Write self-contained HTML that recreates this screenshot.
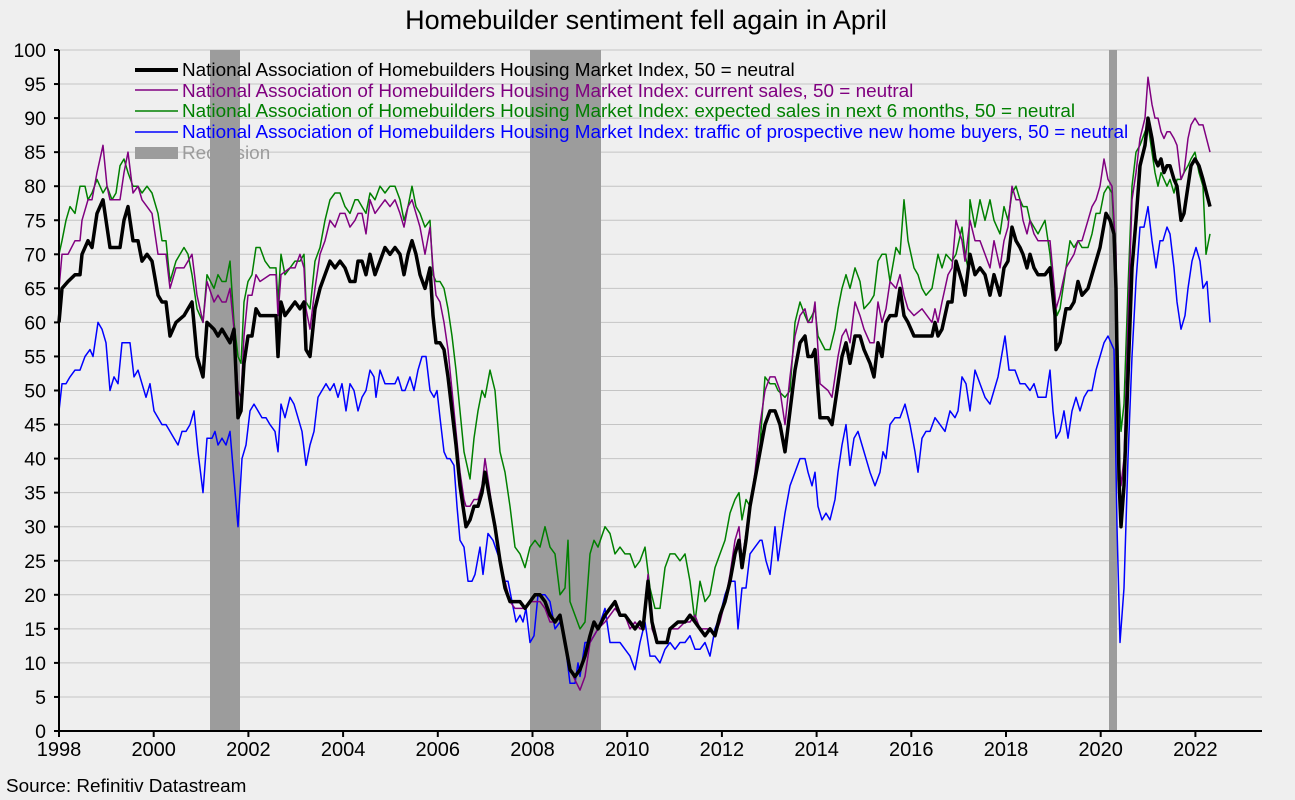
<!DOCTYPE html>
<html><head><meta charset="utf-8"><style>
body{margin:0;background:#efefef;}
svg{display:block;font-family:"Liberation Sans",sans-serif;}
</style></head><body>
<svg id="s" width="1295" height="800" viewBox="0 0 1295 800" xmlns="http://www.w3.org/2000/svg">
<rect width="1295" height="800" fill="#efefef"/>
<text x="646" y="29" font-size="27" text-anchor="middle" fill="#000">Homebuilder sentiment fell again in April</text>
<g id="grid"></g>
<rect x="210" y="50" width="30" height="681" fill="#9c9c9c"/>
<rect x="530" y="50" width="71" height="681" fill="#9c9c9c"/>
<rect x="1109" y="50" width="8" height="681" fill="#9c9c9c"/>
<g id="series" fill="none" stroke-linejoin="round"></g>
<line x1="59" y1="50" x2="59" y2="732" stroke="#000" stroke-width="2"/>
<line x1="58" y1="731" x2="1262" y2="731" stroke="#000" stroke-width="2"/>
<g id="axes"></g>
<g font-size="18.9">
<line x1="135" y1="70" x2="178" y2="70" stroke="#000" stroke-width="4"/>
<text x="182" y="76" fill="#000">National Association of Homebuilders Housing Market Index, 50 = neutral</text>
<line x1="135" y1="90" x2="178" y2="90" stroke="#800080" stroke-width="1.5"/>
<text x="182" y="97" fill="#800080">National Association of Homebuilders Housing Market Index: current sales, 50 = neutral</text>
<line x1="135" y1="111" x2="178" y2="111" stroke="#008000" stroke-width="1.5"/>
<text x="182" y="117" fill="#008000">National Association of Homebuilders Housing Market Index: expected sales in next 6 months, 50 = neutral</text>
<line x1="135" y1="132" x2="178" y2="132" stroke="#0000ff" stroke-width="1.5"/>
<text x="182" y="138" fill="#0000ff">National Association of Homebuilders Housing Market Index: traffic of prospective new home buyers, 50 = neutral</text>
<rect x="135" y="147" width="43" height="12" fill="#9c9c9c"/>
<text x="182" y="159" fill="#9c9c9c">Recession</text>
</g>
<text x="6" y="792" font-size="18.9" fill="#000">Source: Refinitiv Datastream</text>
</svg>
<script>
const Y=v=>731-v*6.81;
const g=document.getElementById('grid'),ax=document.getElementById('axes'),se=document.getElementById('series');
let h='',a='';
for(let v=5;v<=100;v+=5){h+=`<line x1="59" x2="1262" y1="${Y(v)}" y2="${Y(v)}" stroke="#c4c4c4" stroke-width="1"/>`;}
for(let v=0;v<=100;v+=5){a+=`<line x1="54" x2="59" y1="${Y(v)}" y2="${Y(v)}" stroke="#000" stroke-width="2"/><text x="46" y="${Y(v)+7}" font-size="19.5" text-anchor="end">${v}</text>`;}
for(let yr=1998;yr<=2022;yr+=2){const x=59+(yr-1998)*47.35;a+=`<line x1="${x}" x2="${x}" y1="731" y2="737" stroke="#000" stroke-width="2"/><text x="${x}" y="756" font-size="20" text-anchor="middle">${yr}</text>`;}
g.innerHTML=h;ax.innerHTML=a;
function P(s){const n=s.trim().split(/[ ,]+/).map(Number);let p=[];for(let i=0;i<n.length;i+=2)p.push(n[i]+','+Y(n[i+1]).toFixed(1));return p.join(' ');}
const blue=`59 47, 62 51, 66 51, 70 52, 75 53, 80 53, 85 55, 90 56, 93 55, 98 60, 102 59, 106 57, 110 50, 114 52, 118 51, 122 57, 130 57, 134 52, 138 53, 142 51, 146 49, 150 51, 154 47, 158 46, 162 45, 166 45, 170 44, 174 43, 178 42, 182 44, 186 44, 190 45, 194 47, 198 41, 203 35, 207 43, 212 43, 215 44, 218 42, 222 43, 226 42, 230 44, 234 37, 238 30, 242 40, 246 42, 250 47, 254 48, 258 47, 262 46, 266 46, 270 45, 275 44, 278 41, 281 48, 285 46, 290 49, 294 48, 298 46, 302 44, 306 39, 310 42, 314 44, 318 49, 322 50, 326 51, 330 50, 334 51, 338 49, 342 51, 346 47, 350 51, 354 50, 358 47, 362 49, 366 50, 370 53, 374 52, 376 49, 380 53, 385 51, 390 51, 395 51, 398 52, 402 50, 405 50, 410 52, 414 50, 418 53, 422 55, 426 55, 430 50, 434 49, 437 50, 440 46, 444 41, 447 40, 450 40, 454 39, 457 33, 460 28, 464 27, 468 22, 472 22, 475 23, 480 27, 483 23, 488 29, 493 28, 500 25, 504 22, 508 22, 512 19, 516 16, 520 17, 523 16, 526 18, 530 13, 534 14, 538 20, 545 20, 550 19, 555 15, 560 16, 565 13, 570 7, 575 7, 578 10, 580 8, 585 13, 590 13, 598 15, 605 18, 610 13, 620 13, 625 12, 630 11, 635 9, 640 13, 645 16, 650 11, 655 11, 660 10, 665 12, 670 13, 675 12, 680 13, 685 13, 690 14, 695 12, 700 12, 705 13, 710 11, 715 15, 720 17, 725 20, 730 22, 735 22, 738 15, 742 21, 746 21, 750 26, 755 27, 760 28, 762 28, 766 25, 770 23, 775 30, 778 25, 785 32, 790 36, 795 38, 800 40, 805 40, 808 38, 812 36, 815 38, 818 33, 822 31, 826 32, 830 31, 835 34, 838 38, 842 42, 846 45, 850 39, 854 43, 858 44, 862 42, 866 40, 870 38, 875 36, 880 38, 883 41, 886 40, 890 45, 895 46, 900 46, 905 48, 910 45, 915 41, 918 38, 922 43, 926 44, 930 44, 935 46, 940 45, 945 44, 950 47, 955 46, 958 47, 962 52, 966 51, 970 47, 975 53, 980 51, 985 49, 990 48, 994 50, 998 52, 1005 58, 1009 53, 1015 53, 1020 51, 1025 51, 1030 50, 1034 51, 1038 49, 1042 49, 1046 49, 1050 53, 1053 47, 1056 43, 1060 44, 1064 47, 1068 43, 1072 47, 1076 49, 1080 47, 1084 49, 1088 50, 1092 50, 1096 53, 1100 55, 1104 57, 1108 58, 1114 56, 1117 30, 1120 13, 1124 21, 1128 40, 1132 55, 1136 66, 1140 74, 1144 74, 1148 77, 1152 72, 1156 68, 1160 72, 1163 72, 1167 74, 1170 73, 1174 68, 1177 63, 1181 59, 1185 61, 1188 65, 1192 69, 1196 71, 1200 69, 1203 65, 1207 66, 1210 60`;
const green=`59 70, 62 72, 66 75, 70 77, 75 76, 80 80, 85 80, 88 78, 92 79, 97 81, 103 79, 107 80, 112 78, 116 79, 120 83, 124 84, 128 82, 133 80, 138 80, 142 79, 147 80, 152 79, 158 76, 162 72, 166 72, 170 66, 176 69, 184 71, 188 70, 192 67, 197 62, 203 60, 207 67, 214 65, 218 67, 222 66, 226 66, 230 69, 234 60, 238 55, 241 54, 244 63, 248 66, 252 67, 256 71, 260 71, 265 69, 270 68, 276 68, 278 63, 281 70, 285 67, 290 68, 295 69, 300 69, 304 70, 306 63, 310 62, 315 69, 320 71, 325 75, 330 78, 335 79, 340 79, 345 77, 350 76, 355 78, 358 78, 362 77, 366 76, 370 79, 375 78, 380 80, 385 79, 390 80, 395 80, 400 78, 404 75, 408 77, 412 80, 416 77, 420 76, 425 74, 430 75, 433 67, 436 66, 440 66, 444 65, 448 62, 452 58, 456 53, 460 47, 464 41, 470 37, 474 43, 478 47, 482 50, 485 49, 490 53, 495 50, 500 41, 505 38, 510 33, 515 27, 520 26, 525 24, 530 27, 535 28, 540 27, 545 30, 550 27, 555 26, 560 20, 565 21, 568 28, 570 19, 575 17, 580 15, 585 16, 590 26, 594 28, 598 27, 605 30, 610 29, 615 26, 620 27, 625 26, 630 26, 635 24, 640 25, 645 27, 650 21, 655 18, 660 18, 665 24, 670 26, 675 26, 680 25, 685 26, 690 22, 695 16, 700 22, 705 19, 710 20, 715 24, 720 26, 725 28, 730 32, 735 34, 739 35, 742 31, 746 34, 750 33, 755 37, 760 42, 765 52, 770 51, 775 51, 778 50, 785 49, 790 50, 795 60, 800 63, 805 61, 808 60, 812 61, 815 62, 818 58, 825 56, 830 56, 835 59, 838 62, 842 65, 846 67, 850 65, 855 68, 860 66, 864 62, 870 63, 874 64, 878 69, 882 70, 886 70, 890 66, 896 71, 900 70, 904 78, 908 72, 914 68, 918 67, 922 65, 926 64, 932 65, 938 70, 942 68, 946 70, 952 69, 956 70, 962 74, 965 70, 968 68, 970 78, 975 74, 980 78, 985 75, 990 78, 994 75, 1000 73, 1004 77, 1008 75, 1012 79, 1016 80, 1020 78, 1023 77, 1027 77, 1030 75, 1034 74, 1038 73, 1045 75, 1050 70, 1055 63, 1057 61, 1060 62, 1066 68, 1070 72, 1074 71, 1078 72, 1082 71, 1088 71, 1092 73, 1096 76, 1100 76, 1104 79, 1108 80, 1112 79, 1116 68, 1119 50, 1121 44, 1124 48, 1128 65, 1132 80, 1136 85, 1140 86, 1145 88, 1148 89, 1152 85, 1155 82, 1158 80, 1161 82, 1164 81, 1167 80, 1170 81, 1174 79, 1177 81, 1181 81, 1184 82, 1188 83, 1191 84, 1195 85, 1199 82, 1203 80, 1206 70, 1210 73`;
const purple=`59 65, 62 70, 68 70, 75 72, 80 72, 82 75, 88 78, 92 78, 97 82, 103 86, 107 80, 110 78, 120 78, 124 82, 128 85, 133 79, 138 80, 142 78, 147 77, 152 76, 158 70, 162 70, 166 70, 170 65, 176 68, 184 68, 188 69, 192 70, 197 64, 203 60, 207 66, 214 63, 218 64, 222 63, 226 63, 230 65, 234 59, 238 50, 241 49, 244 58, 248 64, 252 64, 256 67, 260 66, 270 67, 276 67, 278 61, 281 67, 290 68, 295 68, 300 70, 304 68, 306 62, 310 59, 315 65, 320 70, 325 72, 330 75, 335 74, 340 76, 345 76, 350 74, 355 75, 358 76, 362 76, 366 73, 370 78, 375 76, 380 77, 385 78, 390 77, 395 78, 400 76, 404 74, 408 77, 412 78, 416 76, 420 74, 425 70, 430 74, 433 68, 436 64, 440 63, 444 60, 448 56, 452 50, 456 44, 460 38, 464 34, 466 33, 470 33, 474 34, 478 34, 482 36, 485 40, 490 35, 495 30, 500 25, 505 22, 510 19, 515 18, 520 18, 525 18, 530 19, 535 19, 540 19, 545 18, 550 16, 555 16, 560 17, 565 13, 570 9, 580 6, 585 8, 590 13, 594 14, 598 15, 605 16, 615 18, 620 17, 625 17, 630 15, 635 16, 640 15, 643 15, 648 23, 652 15, 657 13, 662 13, 667 13, 670 15, 678 15, 685 16, 690 16, 695 17, 700 15, 705 15, 710 15, 715 14, 720 16, 725 19, 730 23, 735 28, 739 30, 742 25, 746 29, 750 33, 755 38, 760 45, 765 50, 770 52, 775 52, 780 50, 785 45, 790 52, 795 58, 800 61, 805 62, 808 60, 812 60, 815 63, 818 56, 820 51, 828 50, 832 49, 838 55, 842 58, 846 59, 850 57, 855 63, 860 61, 864 59, 870 57, 874 57, 878 63, 882 60, 886 62, 890 66, 896 65, 900 67, 904 64, 908 62, 914 61, 922 62, 932 60, 935 62, 938 60, 942 63, 948 67, 952 68, 956 75, 962 72, 965 69, 970 75, 975 72, 980 72, 985 70, 990 68, 994 72, 1000 68, 1004 72, 1008 74, 1012 80, 1016 78, 1020 78, 1023 75, 1027 73, 1030 75, 1034 73, 1038 72, 1045 72, 1050 72, 1055 64, 1056 62, 1060 64, 1066 68, 1070 69, 1074 70, 1078 72, 1082 72, 1088 75, 1092 77, 1096 78, 1100 80, 1104 84, 1108 81, 1112 80, 1116 70, 1119 40, 1121 36, 1124 40, 1128 60, 1132 78, 1136 82, 1140 87, 1145 90, 1148 96, 1152 92, 1155 90, 1158 90, 1161 88, 1164 87, 1167 88, 1170 88, 1174 87, 1177 86, 1181 81, 1184 82, 1188 87, 1191 89, 1195 90, 1199 89, 1203 89, 1210 85`;
const black=`59 60, 62 65, 68 66, 75 67, 80 67, 82 70, 88 72, 92 71, 97 76, 103 78, 110 71, 120 71, 124 75, 128 77, 133 72, 138 72, 142 69, 147 70, 152 69, 158 64, 162 63, 166 63, 170 58, 176 60, 184 61, 188 62, 192 63, 197 55, 203 52, 207 60, 214 59, 218 58, 222 59, 226 58, 230 57, 234 59, 238 46, 241 47, 244 54, 248 58, 252 58, 256 62, 260 61, 270 61, 276 61, 278 55, 281 63, 285 61, 290 62, 295 63, 300 62, 304 63, 306 56, 310 55, 315 62, 320 65, 325 67, 330 69, 335 68, 340 69, 345 68, 350 66, 355 66, 358 69, 362 69, 366 67, 370 70, 375 67, 380 69, 385 71, 390 70, 395 71, 400 70, 404 67, 408 70, 412 72, 416 70, 420 67, 425 65, 430 68, 433 61, 436 57, 440 57, 444 56, 448 52, 452 47, 456 42, 460 36, 464 32, 466 30, 470 31, 474 33, 478 33, 482 35, 485 38, 490 34, 495 30, 500 25, 505 21, 510 19, 515 19, 520 19, 525 18, 530 19, 535 20, 540 20, 545 19, 550 17, 555 16, 560 17, 565 13, 570 9, 575 8, 580 9, 585 11, 590 14, 594 16, 598 15, 605 17, 615 19, 620 17, 625 17, 630 16, 635 15, 640 16, 643 15, 648 22, 652 16, 657 13, 662 13, 667 13, 670 15, 678 16, 685 16, 690 17, 695 16, 700 15, 705 14, 710 15, 715 14, 720 17, 725 19, 730 22, 735 26, 739 28, 742 24, 746 28, 750 33, 755 37, 760 41, 765 45, 770 47, 775 47, 780 45, 785 41, 790 47, 795 53, 800 57, 805 58, 808 55, 812 55, 815 56, 818 50, 820 46, 828 46, 832 45, 838 51, 842 55, 846 57, 850 54, 855 58, 860 58, 864 56, 870 54, 874 52, 878 57, 882 55, 886 60, 890 61, 896 61, 900 65, 904 61, 908 60, 914 58, 922 58, 932 58, 935 60, 938 58, 942 59, 948 63, 952 63, 956 69, 962 66, 965 64, 970 70, 975 67, 980 68, 985 67, 990 64, 994 67, 1000 64, 1004 68, 1008 69, 1012 74, 1016 72, 1020 71, 1023 70, 1027 68, 1030 70, 1034 68, 1038 67, 1045 67, 1050 68, 1055 61, 1056 56, 1060 57, 1066 62, 1070 62, 1074 63, 1078 66, 1082 64, 1088 65, 1092 67, 1096 69, 1100 71, 1106 76, 1110 75, 1114 73, 1116 65, 1119 37, 1121 30, 1124 36, 1128 52, 1132 68, 1136 75, 1140 83, 1145 86, 1148 90, 1152 87, 1155 84, 1158 83, 1161 84, 1164 82, 1167 83, 1170 83, 1174 81, 1177 80, 1181 75, 1184 76, 1188 80, 1191 83, 1195 84, 1199 83, 1203 81, 1210 77`;
se.innerHTML=`<polyline points="${P(blue)}" stroke="#0000ff" stroke-width="1.5"/><polyline points="${P(green)}" stroke="#008000" stroke-width="1.5"/><polyline points="${P(purple)}" stroke="#800080" stroke-width="1.5"/><polyline points="${P(black)}" stroke="#000" stroke-width="3.5"/>`;
</script>
</body></html>
